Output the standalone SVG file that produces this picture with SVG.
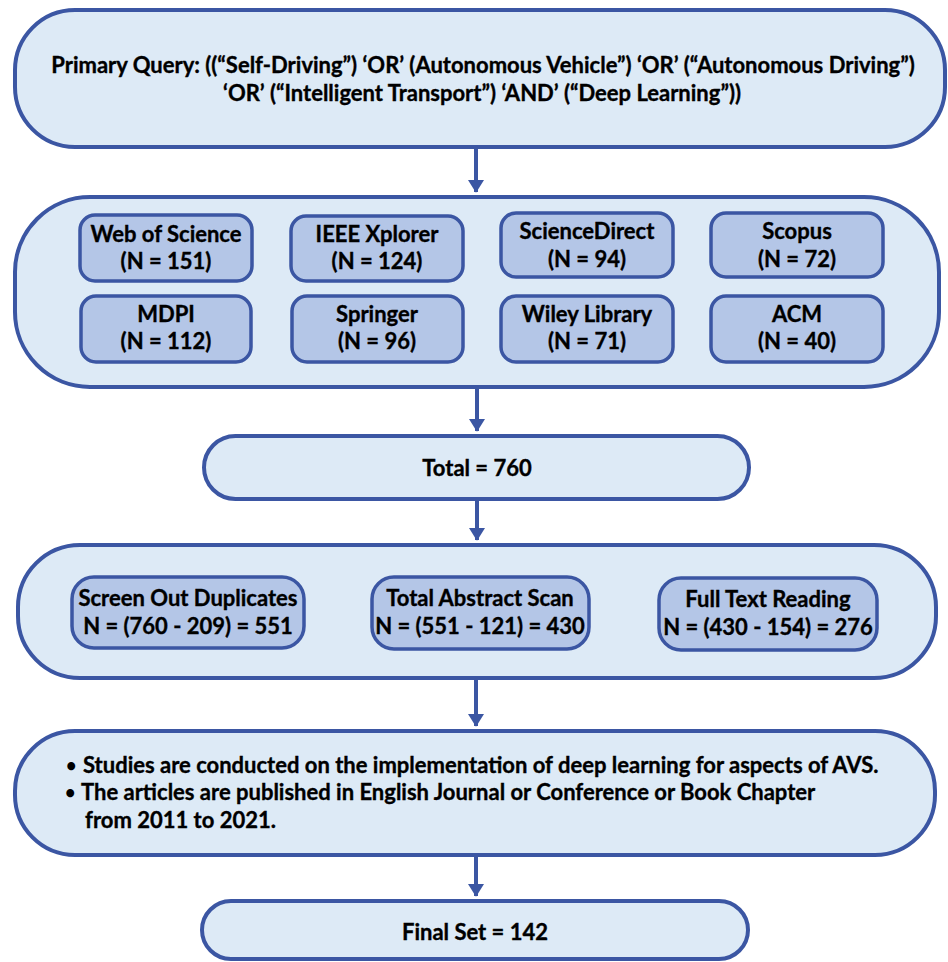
<svg xmlns="http://www.w3.org/2000/svg" width="948" height="962" viewBox="0 0 948 962">
<style>
.outer{fill:#DDEAF6;stroke:#3B56A3;stroke-width:4}
.inner{fill:#B4C6E7;stroke:#3B56A3;stroke-width:3.5}
.t{font-family:Lato,"Liberation Sans",sans-serif;font-weight:bold;font-size:22px;fill:#000;stroke:#000;stroke-width:0.35;text-anchor:middle}
.tl{font-family:Lato,"Liberation Sans",sans-serif;font-weight:bold;font-size:22px;fill:#000;stroke:#000;stroke-width:0.35}
.b{font-family:Lato,"Liberation Sans",sans-serif;font-weight:bold;font-size:18px;fill:#000}
.c{stroke:#3B56A3;stroke-width:4;fill:none}
</style>
<defs>
<marker id="ah" markerWidth="4" markerHeight="4" refX="3" refY="2" orient="auto" markerUnits="strokeWidth">
<path d="M0,0 L3.2,2 L0,4 Z" fill="#3B56A3"/>
</marker>
</defs>
<g id="connectors">
<line class="c" x1="476" y1="148" x2="476" y2="192" marker-end="url(#ah)"/>
<line class="c" x1="477" y1="389" x2="477" y2="431" marker-end="url(#ah)"/>
<line class="c" x1="477" y1="501" x2="477" y2="540" marker-end="url(#ah)"/>
<line class="c" x1="476" y1="680" x2="476" y2="726" marker-end="url(#ah)"/>
<line class="c" x1="476" y1="857" x2="476" y2="896" marker-end="url(#ah)"/>
</g>
<g id="query">
<rect class="outer" x="15" y="10" width="930" height="137" rx="60" ry="60"/>
<text class="t" x="483" y="73">Primary Query: ((“Self-Driving”) ‘OR’ (Autonomous Vehicle”) ‘OR’ (“Autonomous Driving”)</text>
<text class="t" x="482" y="101">‘OR’ (“Intelligent Transport”) ‘AND’ (“Deep Learning”))</text>
</g>
<g id="databases">
<rect class="outer" x="15" y="197" width="924" height="190" rx="75" ry="75"/>
</g>
<g id="wos">
<rect class="inner" x="80" y="215" width="172" height="66" rx="15"/>
<text class="t" x="166" y="242">Web of Science</text>
<text class="t" x="166" y="269">(N = 151)</text>
</g>
<g id="ieee">
<rect class="inner" x="291" y="216" width="172" height="65" rx="15"/>
<text class="t" x="377" y="242">IEEE Xplorer</text>
<text class="t" x="377" y="269">(N = 124)</text>
</g>
<g id="sciencedirect">
<rect class="inner" x="501" y="213" width="172" height="64" rx="15"/>
<text class="t" x="587" y="239">ScienceDirect</text>
<text class="t" x="587" y="267">(N = 94)</text>
</g>
<g id="scopus">
<rect class="inner" x="711" y="213" width="172" height="64" rx="15"/>
<text class="t" x="797" y="239">Scopus</text>
<text class="t" x="797" y="267">(N = 72)</text>
</g>
<g id="mdpi">
<rect class="inner" x="81" y="296" width="170" height="66" rx="15"/>
<text class="t" x="166" y="322">MDPI</text>
<text class="t" x="166" y="349">(N = 112)</text>
</g>
<g id="springer">
<rect class="inner" x="292" y="296" width="171" height="66" rx="15"/>
<text class="t" x="377" y="322">Springer</text>
<text class="t" x="377" y="349">(N = 96)</text>
</g>
<g id="wiley">
<rect class="inner" x="501" y="296" width="172" height="66" rx="15"/>
<text class="t" x="587" y="322">Wiley Library</text>
<text class="t" x="587" y="349">(N = 71)</text>
</g>
<g id="acm">
<rect class="inner" x="711" y="296" width="172" height="66" rx="15"/>
<text class="t" x="797" y="322">ACM</text>
<text class="t" x="797" y="349">(N = 40)</text>
</g>
<g id="total">
<rect class="outer" x="204" y="436" width="545" height="63" rx="31.5"/>
<text class="t" x="477" y="476">Total = 760</text>
</g>
<g id="screening">
<rect class="outer" x="18" y="545" width="918" height="133" rx="62"/>
</g>
<g id="duplicates">
<rect class="inner" x="72" y="577" width="232" height="71" rx="22"/>
<text class="t" x="188" y="606">Screen Out Duplicates</text>
<text class="t" x="188" y="634">N = (760 - 209) = 551</text>
</g>
<g id="abstract">
<rect class="inner" x="372" y="577" width="217" height="72" rx="22"/>
<text class="t" x="480" y="606">Total Abstract Scan</text>
<text class="t" x="480" y="634">N = (551 - 121) = 430</text>
</g>
<g id="fulltext">
<rect class="inner" x="659" y="578" width="218" height="72" rx="22"/>
<text class="t" x="768" y="607">Full Text Reading</text>
<text class="t" x="768" y="635">N = (430 - 154) = 276</text>
</g>
<g id="criteria">
<rect class="outer" x="15" y="731" width="920" height="124" rx="60"/>
<text class="b" x="66" y="772">•</text>
<text class="tl" x="83" y="773">Studies are conducted on the implementation of deep learning for aspects of AVS.</text>
<text class="b" x="65" y="799">•</text>
<text class="tl" x="81" y="800">The articles are published in English Journal or Conference or Book Chapter</text>
<text class="tl" x="85" y="828">from 2011 to 2021.</text>
</g>
<g id="final">
<rect class="outer" x="202" y="901" width="546" height="58" rx="29"/>
<text class="t" x="475" y="940">Final Set = 142</text>
</g>
</svg>
